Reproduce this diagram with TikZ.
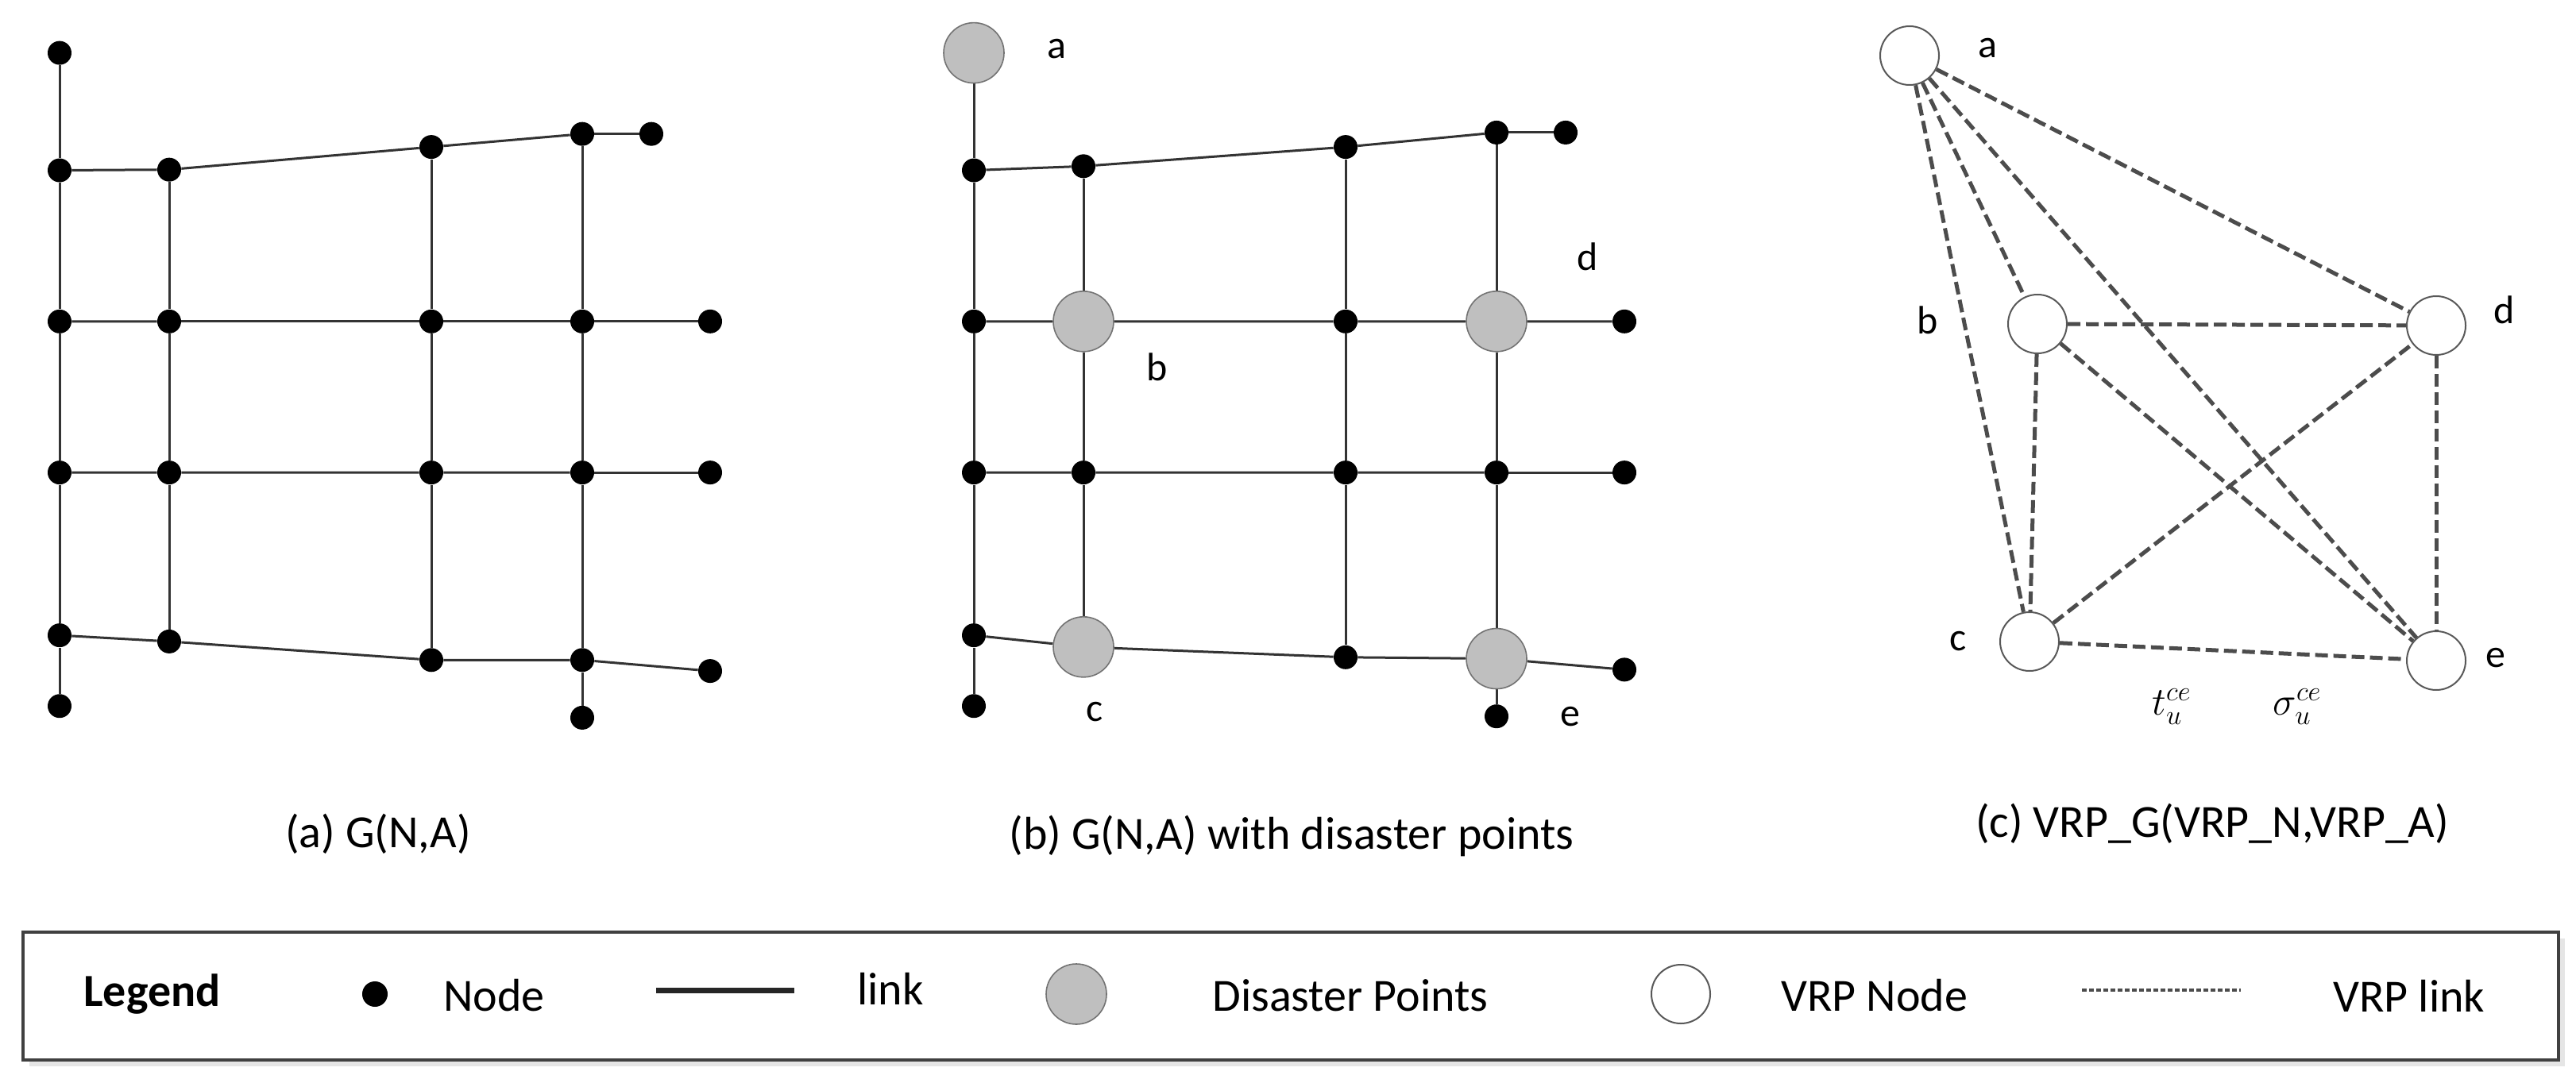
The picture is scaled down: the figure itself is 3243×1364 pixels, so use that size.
\documentclass[tikz,border=0pt]{standalone}
\usepackage{fontspec}
\setmainfont{Carlito}
\usetikzlibrary{positioning,backgrounds}

\tikzset{
  dot/.style={circle,fill=black,inner sep=0pt,minimum size=15pt},
  hub/.style={circle,fill=black!25,draw=black!55,line width=0.8pt,inner sep=0pt,minimum size=38pt},
  vrp/.style={circle,fill=white,draw=black!65,line width=1pt,inner sep=0pt,minimum size=37pt},
  link/.style={draw=black!80,line width=1.5pt},
  vlink/.style={draw=black!70,line width=2.5pt,dash pattern=on 8pt off 3.5pt},
  lab/.style={font=\fontsize{25}{30}\selectfont,inner sep=0pt},
  capt/.style={font=\fontsize{29}{34}\selectfont,inner sep=0pt},
}

\begin{document}
\begin{tikzpicture}[x=0.5pt,y=-0.5pt]
\useasboundingbox (0,0) rectangle (3243,1364);

\begin{scope}[yscale=0.865]
% (a) road grid
\foreach \n/\x/\y in {a0/75/77,a1/75/248,a2/75/468,a3/75/688,a4/75/925,a5/75/1028,
  b1/213/247,b2/213/468,b3/213/688,b4/213/934,
  c1/543/214,c2/543/468,c3/543/688,c4/543/961,
  d1/733/195,d2/733/468,d3/733/688,d4/733/961,d5/733/1045,
  e1/820/195,e2/894/468,e3/894/688,e4/894/977}
  \node[dot] (A\n) at (\x,\y) {};

% (b) same grid, disaster points enlarged
\begin{scope}[xshift=575.5pt]
\foreach \n/\x/\y/\s in {a0/75/77/hub,a1/75/248/dot,a2/75/468/dot,a3/75/688/dot,a4/75/925/dot,a5/75/1028/dot,
  b1/213/242/dot,b2/213/468/hub,b3/213/688/dot,b4/213/942/hub,
  c1/543/214/dot,c2/543/468/dot,c3/543/688/dot,c4/543/957/dot,
  d1/733/193/dot,d2/733/468/hub,d3/733/688/dot,d4/733/959/hub,d5/733/1043/dot,
  e1/820/193/dot,e2/894/468/dot,e3/894/688/dot,e4/894/975/dot}
  \node[\s] (B\n) at (\x,\y) {};
\end{scope}

\begin{scope}[on background layer]
\foreach \g in {A,B}
  \foreach \u/\v in {a0/a1,a1/a2,a2/a3,a3/a4,a4/a5,b1/b2,b2/b3,b3/b4,
    c1/c2,c2/c3,c3/c4,d1/d2,d2/d3,d3/d4,d4/d5,
    a1/b1,b1/c1,c1/d1,d1/e1,a2/b2,b2/c2,c2/d2,d2/e2,
    a3/b3,b3/c3,c3/d3,d3/e3,a4/b4,b4/c4,c4/d4,d4/e4}
    \draw[link] (\g\u) -- (\g\v);
\end{scope}

\node[lab] at (1330,71) {a};
\node[lab] at (1457,535) {b};
\node[lab] at (1378,1037) {c};
\node[lab] at (1999,374) {d};
\node[lab] at (1977,1043) {e};
\end{scope}

% (c) VRP graph
\node[vrp] (va) at (2404,70) {};
\node[vrp] (vb) at (2565,408) {};
\node[vrp] (vc) at (2555,808) {};
\node[vrp] (vd) at (3067,410) {};
\node[vrp] (ve) at (3067,832) {};
\foreach \u/\v in {a/b,a/c,a/d,a/e,b/c,b/d,b/e,c/d,c/e,d/e}
  \draw[vlink] (v\u) -- (v\v);

\node[lab] at (2502,61) {a};
\node[lab] at (2427,403) {b};
\node[lab] at (2465,808) {c};
\node[lab] at (3153,390) {d};
\node[lab] at (3142,829) {e};
\node[lab] at (2734,890) {$t_u^{ce}$};
\node[lab] at (2892,890) {$\sigma_u^{ce}$};

% captions
\node[capt] at (476,1050) {(a) G(N,A)};
\node[capt] at (1626,1053) {(b) G(N,A) with disaster points};
\node[capt] at (2785,1037) {(c) VRP\_G(VRP\_N,VRP\_A)};

% legend
\fill[black!10] (37,1182) rectangle (3229,1343);
\draw[fill=white,draw=black!75,line width=2pt] (29,1174) rectangle (3221,1335);
\node[capt,font=\fontsize{29}{34}\selectfont\bfseries,anchor=west] (lg) at (105,1252) {Legend};
\node[dot,minimum size=16pt] (ln) at (472,1252) {};
\node[capt,anchor=west] at (558,1254) {Node};
\coordinate (ll1) at (826,1247);
\coordinate (ll2) at (1000,1247);
\draw[draw=black!85,line width=3.5pt] (ll1) -- (ll2);
\node[capt,anchor=west] at (1079,1245) {link};
\node[hub] (lh) at (1355,1252) {};
\node[capt,anchor=west] at (1526,1254) {Disaster Points};
\node[vrp] (lv) at (2116,1252) {};
\node[capt,anchor=west] at (2242,1254) {VRP Node};
\coordinate (lv1) at (2621,1247);
\coordinate (lv2) at (2821,1247);
\draw[draw=black!70,line width=2pt,dash pattern=on 3pt off 1.5pt] (lv1) -- (lv2);
\node[capt,anchor=west] at (2937,1254) {VRP link};
\end{tikzpicture}
\end{document}
